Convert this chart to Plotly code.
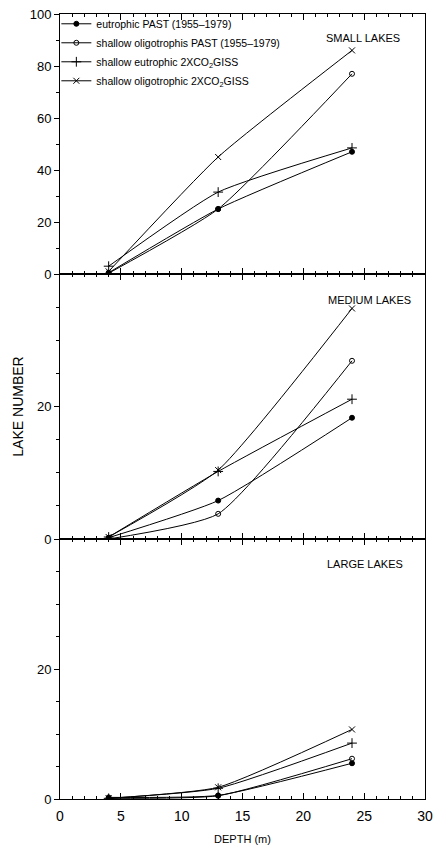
import plotly.graph_objects as go

depth = [4, 13, 24]
series_names = [
    "eutrophic PAST (1955\u20131979)",
    "shallow oligotrophis PAST (1955\u20131979)",
    "shallow eutrophic 2XCO<sub>2</sub>GISS",
    "shallow oligotrophic 2XCO<sub>2</sub>GISS",
]
# SMALL LAKES
small_eut_past = [0.5, 25, 47]
small_olig_past = [0.3, 25, 77]
small_eut_2x = [3, 31.5, 48.5]
small_olig_2x = [1, 45, 86]
# MEDIUM LAKES
medium_eut_past = [0.2, 5.8, 18.3]
medium_olig_past = [0.0, 3.8, 26.9]
medium_eut_2x = [0.3, 10.2, 21.1]
medium_olig_2x = [0.3, 10.4, 34.8]
# LARGE LAKES
large_eut_past = [0.25, 0.55, 5.5]
large_olig_past = [0.1, 0.5, 6.2]
large_eut_2x = [0.1, 1.65, 8.6]
large_olig_2x = [0.1, 1.8, 10.7]

panel_labels = ["SMALL LAKES", "MEDIUM LAKES", "LARGE LAKES"]

symbols = ["circle", "circle-open", "cross-thin-open", "x-thin-open"]
sizes = [5, 5, 7, 6]

panels = [
    ("x3", "y3", [small_eut_past, small_olig_past, small_eut_2x, small_olig_2x], True),
    ("x2", "y2", [medium_eut_past, medium_olig_past, medium_eut_2x, medium_olig_2x], False),
    ("x", "y", [large_eut_past, large_olig_past, large_eut_2x, large_olig_2x], False),
]

fig = go.Figure()
for xa, ya, data, show in panels:
    for i, vals in enumerate(data):
        fig.add_trace(go.Scatter(
            x=depth, y=vals, xaxis=xa, yaxis=ya,
            mode="lines+markers",
            name=series_names[i], legendgroup=str(i), showlegend=show,
            line=dict(color="black", width=1, shape="spline", smoothing=0.5),
            marker=dict(symbol=symbols[i], size=sizes[i], color="black",
                        line=dict(color="black", width=1)),
        ))

FONT = "Liberation Sans, Arial, sans-serif"
d1 = 260 / 785
d2 = 525 / 785

xcommon = dict(range=[0, 30], dtick=5, tick0=0, ticks="inside", ticklen=6,
               tickwidth=1, tickcolor="black", showline=True, linecolor="black",
               linewidth=1, mirror="ticks", showgrid=False, zeroline=False,
               automargin=False,
               minor=dict(dtick=1, ticks="inside", ticklen=3, tickcolor="black"),
               tickfont=dict(family=FONT, size=14, color="black"))

ycommon = dict(ticks="outside", ticklen=5, tickwidth=1, tickcolor="black",
               showline=True, linecolor="black", linewidth=1, mirror=True,
               showgrid=False, zeroline=False, automargin=False,
               tickfont=dict(family=FONT, size=13, color="black"))

rcommon = dict(side="right", ticks="inside", ticklen=5, tickwidth=1,
               tickcolor="black", showline=False, showgrid=False,
               zeroline=False, showticklabels=False, automargin=False)

fig.update_layout(
    template="none",
    width=435, height=847,
    margin=dict(l=60, r=10, t=14, b=48, autoexpand=False),
    paper_bgcolor="white", plot_bgcolor="white",
    font=dict(family=FONT, color="black"),
    xaxis=dict(**xcommon, anchor="y", ticklabelstandoff=4,
               title=dict(text="DEPTH (m)", font=dict(size=11), standoff=12)),
    xaxis2=dict(**xcommon, anchor="y2", matches="x", showticklabels=False),
    xaxis3=dict(**xcommon, anchor="y3", matches="x", showticklabels=False),
    yaxis=dict(**ycommon, domain=[0, d1], range=[0, 40], tickvals=[0, 20],
               minor=dict(tickvals=[5, 10, 15, 25, 30, 35], ticks="outside",
                          ticklen=3, tickcolor="black")),
    yaxis2=dict(**ycommon, domain=[d1, d2], range=[0, 40], tickvals=[0, 20],
                minor=dict(tickvals=[5, 10, 15, 25, 30, 35], ticks="outside",
                           ticklen=3, tickcolor="black"),
                title=dict(text="LAKE NUMBER", font=dict(size=14), standoff=10)),
    yaxis3=dict(**ycommon, domain=[d2, 1], range=[0, 100], dtick=20,
                minor=dict(dtick=10, ticks="outside", ticklen=3,
                           tickcolor="black")),
    yaxis4=dict(**rcommon, overlaying="y", anchor="x", range=[0, 40],
                tickvals=[0, 5, 10, 15, 20, 25, 30, 35]),
    yaxis5=dict(**rcommon, overlaying="y2", anchor="x2", range=[0, 40],
                tickvals=[0, 5, 10, 15, 20, 25, 30, 35]),
    yaxis6=dict(**rcommon, overlaying="y3", anchor="x3", range=[0, 100],
                tickvals=[0, 10, 20, 30, 40, 50, 60, 70, 80, 90]),
    legend=dict(x=-0.01, y=1.006, xanchor="left", yanchor="top",
                bgcolor="rgba(0,0,0,0)", borderwidth=0,
                font=dict(family=FONT, size=10.5, color="black"),
                tracegroupgap=0, itemwidth=30),
    showlegend=True,
)

label_pos = [(0.937, 1 - 24 / 785), (0.967, 1 - 286 / 785), (0.945, 1 - 550 / 785)]
for text, (px, py) in zip(panel_labels, label_pos):
    fig.add_annotation(text=text, x=px, y=py, xref="paper", yref="paper",
                       xanchor="right", yanchor="middle", showarrow=False,
                       font=dict(family=FONT, size=11, color="black"))

fig.write_html("out.html",
               config={"displayModeBar": False},
               post_script="document.body.style.margin='0';document.body.style.overflow='hidden';")
